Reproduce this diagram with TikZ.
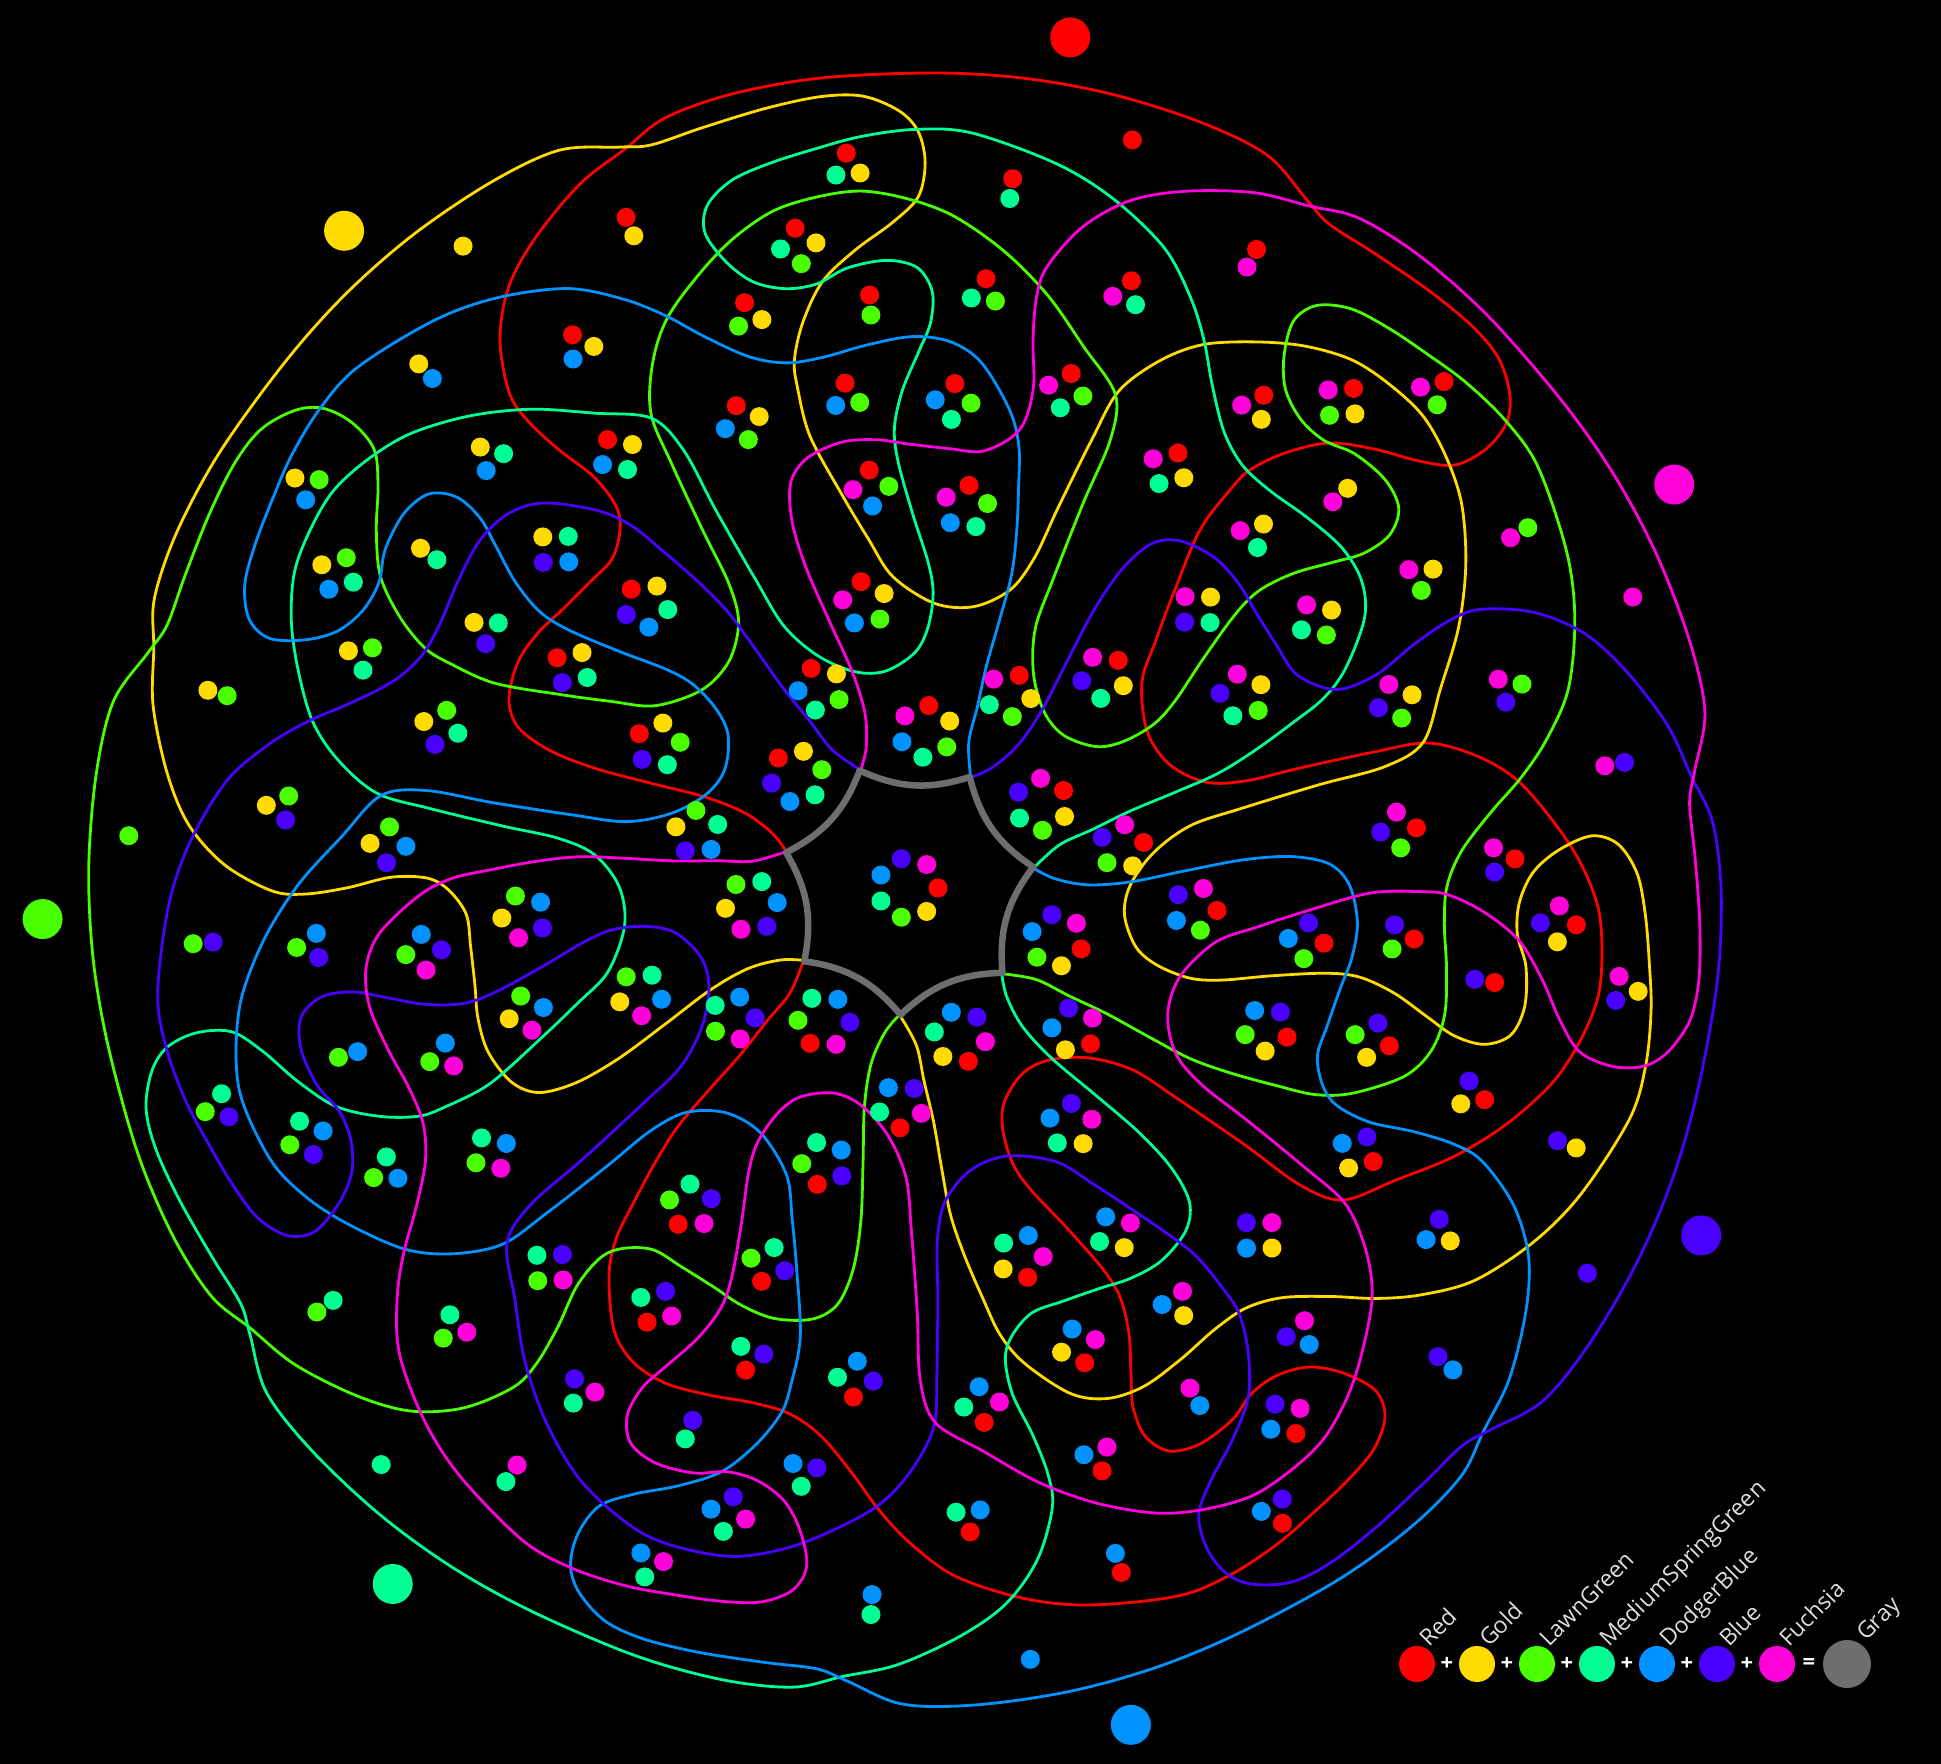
\documentclass[tikz,border=0pt]{standalone}
\usepackage{fontspec}
\setsansfont{Open Sans}
\definecolor{col0}{RGB}{255,0,0}
\definecolor{col1}{RGB}{255,219,0}
\definecolor{col2}{RGB}{73,255,0}
\definecolor{col3}{RGB}{0,255,146}
\definecolor{col4}{RGB}{0,146,255}
\definecolor{col5}{RGB}{73,0,255}
\definecolor{col6}{RGB}{255,0,219}
\definecolor{grayc}{RGB}{110,110,110}
\definecolor{labc}{RGB}{222,222,222}

% cluster of dots: #1 radius, #2 angle, #3 size, #4 member colours (sorted)
\newcommand\vennclust[4]{%
 \foreach \vk in {0,...,6}{%
  \gdef\vcM{0}%
  \foreach \vc in {#4}{\pgfmathtruncatemacro\vcT{\vcM+((\vc+\vk)>6)}\xdef\vcM{\vcT}}%
  \gdef\vcP{0}%
  \foreach \vc in {#4}{%
   \pgfmathtruncatemacro\vcI{mod(\vc+\vk,7)}%
   \pgfmathsetmacro\vcA{#2+\vk*360/7}%
   \pgfmathtruncatemacro\vcS{mod(\vcP+\vcM,#3)}%
   \pgfmathsetmacro\vcD{\vcA-360*\vcS/#3}%
   \pgfmathsetmacro\vcR{#3==1 ? 0 : 4*#3+2}%
   \pgfmathsetmacro\vcX{#1*cos(\vcA)+\vcR*cos(\vcD)}%
   \pgfmathsetmacro\vcY{#1*sin(\vcA)+\vcR*sin(\vcD)}%
   \edef\vcCol{col\vcI}%
   \fill[fill=\vcCol] (\vcX pt,\vcY pt) circle (9.5pt);%
   \pgfmathtruncatemacro\vcT{\vcP+1}\xdef\vcP{\vcT}%
  }%
 }%
}

\newcommand\redcurve{%
\draw[curve] plot[smooth,tension=0.55] coordinates {(-122,37) (-136,55) (-163,75) (-203,91) (-258,105) (-314,120) (-359,138) (-390,161) (-399,189) (-390,226) (-370,255) (-346,278) (-319,305) (-296,329) (-288,358) (-292,382) (-314,411) (-350,439) (-381,468) (-399,496) (-408,549) (-399,602) (-372,651) (-328,704) (-283,739) (-243,770) (-176,794) (-87,810) (24,815) (114,810) (203,794) (292,766) (359,733) (399,688) (421,664) (466,635) (520,598) (564,562) (591,529) (602,492) (598,464) (578,439) (547,423) (511,427) (466,439) (421,445) (377,435) (342,418) (322,398) (292,358) (266,296) (248,248) (234,206) (239,157) (261,124) (297,106) (337,107) (392,120) (466,136) (520,145) (569,132) (609,108) (645,67) (672,26) (690,-19) (694,-64) (690,-109) (672,-153) (645,-194) (600,-235) (547,-268) (488,-292) (435,-312) (392,-297) (337,-257) (270,-211) (225,-182) (181,-170) (141,-172) (114,-186) (96,-215) (95,-243) (105,-276) (123,-302) (158,-339) (194,-380) (212,-409) (221,-446) (223,-487) (225,-519) (237,-548) (261,-563) (292,-556) (324,-532) (344,-505) (370,-487) (402,-479) (435,-485) (467,-502) (477,-528) (466,-561) (439,-593) (404,-626) (368,-657) (322,-687) (270,-708) (181,-717) (114,-710) (47,-688) (2,-655) (-29,-622) (-56,-585) (-87,-548) (-118,-526) (-154,-515) (-199,-507) (-243,-495) (-275,-474) (-294,-442) (-299,-388) (-292,-351) (-274,-314) (-252,-273) (-229,-237) (-199,-202) (-167,-166) (-141,-133) (-118,-105) (-105,-74)};%
}

\begin{document}
\begin{tikzpicture}[x=1pt,y=1pt,
  curve/.style={line width=2.8pt},
  grayline/.style={draw=grayc,line width=6.5pt,line cap=round},
  lab/.style={text=labc,font=\sffamily\fontsize{23}{26}\selectfont,rotate=45,anchor=base west,inner sep=0pt},
  op/.style={text=white,font=\sffamily\bfseries\fontsize{22}{24}\selectfont,inner sep=0pt}]

\fill[black] (-908,-876) rectangle (1033,888);
\useasboundingbox (-908,-876) rectangle (1033,888);

% the seven curves (rotations of one another)
\foreach \k in {0,...,6}{
  \begin{scope}[rotate=\k*360/7, draw=col\k]
    \redcurve
  \end{scope}
}

% central boundary
\foreach \k in {0,...,6}{
  \draw[grayline] ({9.5+\k*360/7}:127) to[bend left=21] ({9.5+(\k+1)*360/7}:127);
}

% big label dots
\foreach \k in {0,...,6}{
  \fill[fill=col\k] ({79.2+\k*360/7}:866) circle (20pt);
}

% region dots
\vennclust{781}{73.3}{1}{0}
\vennclust{717.5}{112.8}{2}{0,1}
\vennclust{584.2}{93.7}{2}{0,2}
\vennclust{707}{81.6}{2}{0,3}
\vennclust{593.8}{105.6}{3}{0,1,2}
\vennclust{723.5}{94.8}{3}{0,1,3}
\vennclust{633}{69.8}{3}{0,3,6}
\vennclust{600.3}{82.7}{3}{0,2,3}
\vennclust{494.8}{97.1}{3}{0,2,4}
\vennclust{651.4}{99.7}{4}{0,1,2,3}
\vennclust{494}{109.6}{4}{0,1,2,4}
\vennclust{488.6}{84.7}{4}{0,2,3,4}
\vennclust{521.8}{72.4}{4}{0,2,3,6}
\vennclust{401.7}{95.3}{4}{0,2,4,6}
\vennclust{385.3}{132.8}{5}{0,1,3,4,5}
\vennclust{287.9}{98.7}{5}{0,1,2,4,6}
\vennclust{218}{113.8}{5}{0,1,2,3,4}
\vennclust{157.6}{83.5}{6}{0,1,2,3,4,6}

% centre: all seven
\foreach \c in {0,...,6}{
  \fill[fill=col\c] ({-\c*360/7}:30) circle (9.5pt);
}

% legend
\foreach \i/\nm in {0/Red,1/Gold,2/LawnGreen,3/MediumSpringGreen,4/DodgerBlue,5/Blue,6/Fuchsia}{
  \fill[fill=col\i] ({509+60*\i},-776) circle (18pt);
  \node[lab] (lab\i) at ({521+60*\i},-760) {\nm};
}
\foreach \i in {0,...,5}{
  \node[op] (plus\i) at ({539+60*\i},-776) {+};
}
\node[op] (eq) at (901,-776) {=};
\fill[grayc] (939,-776) circle (24pt);
\node[lab] (labg) at (958,-754) {Gray};
\end{tikzpicture}
\end{document}
